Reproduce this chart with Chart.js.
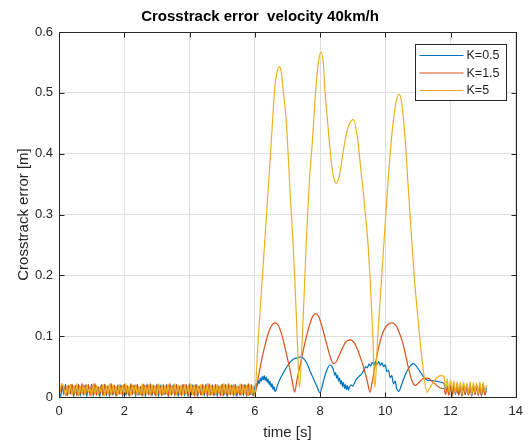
<!DOCTYPE html>
<html>
<head>
<meta charset="utf-8">
<script src="https://cdn.jsdelivr.net/npm/chart.js@4.4.0/dist/chart.umd.min.js"></script>
<style>
  html, body { margin: 0; padding: 0; background: #fff; }
</style>
</head>
<body>
<canvas id="errChart" width="530" height="445"></canvas>
<script>
// chart text
const chartTitle = "Crosstrack error  velocity 40km/h";
const xLabel = "time [s]";
const yLabel = "Crosstrack error [m]";
const seriesLabels = ["K=0.5", "K=1.5", "K=5"];
const seriesColors = ["#0072BD", "#D95319", "#EDB120"];

// noisy start (0..6 s), shared sample times
const noiseTime = [
  0, 0.05, 0.1, 0.15, 0.2, 0.25, 0.3, 0.35, 0.4, 0.45,
  0.5, 0.55, 0.6, 0.65, 0.7, 0.75, 0.8, 0.85, 0.9, 0.95,
  1, 1.05, 1.1, 1.15, 1.2, 1.25, 1.3, 1.35, 1.4, 1.45,
  1.5, 1.55, 1.6, 1.65, 1.7, 1.75, 1.8, 1.85, 1.9, 1.95,
  2, 2.05, 2.1, 2.15, 2.2, 2.25, 2.3, 2.35, 2.4, 2.45,
  2.5, 2.55, 2.6, 2.65, 2.7, 2.75, 2.8, 2.85, 2.9, 2.95,
  3, 3.05, 3.1, 3.15, 3.2, 3.25, 3.3, 3.35, 3.4, 3.45,
  3.5, 3.55, 3.6, 3.65, 3.7, 3.75, 3.8, 3.85, 3.9, 3.95,
  4, 4.05, 4.1, 4.15, 4.2, 4.25, 4.3, 4.35, 4.4, 4.45,
  4.5, 4.55, 4.6, 4.65, 4.7, 4.75, 4.8, 4.85, 4.9, 4.95,
  5, 5.05, 5.1, 5.15, 5.2, 5.25, 5.3, 5.35, 5.4, 5.45,
  5.5, 5.55, 5.6, 5.65, 5.7, 5.75, 5.8, 5.85, 5.9, 5.95,
  6
];
const k05NoiseErr = [
  0.010, 0.001, 0.018, 0.004, 0.021, 0.002, 0.016, 0.005, 0.020, 0.001,
  0.019, 0.003, 0.021, 0.002, 0.017, 0.004, 0.020, 0.001, 0.018, 0.005,
  0.021, 0.002, 0.019, 0.003, 0.016, 0.001, 0.020, 0.004, 0.021, 0.002,
  0.018, 0.001, 0.021, 0.003, 0.019, 0.002, 0.017, 0.005, 0.020, 0.001,
  0.021, 0.003, 0.018, 0.002, 0.020, 0.004, 0.019, 0.001, 0.021, 0.003,
  0.017, 0.002, 0.020, 0.001, 0.021, 0.004, 0.018, 0.002, 0.019, 0.003,
  0.021, 0.001, 0.020, 0.002, 0.018, 0.004, 0.021, 0.001, 0.019, 0.003,
  0.020, 0.002, 0.021, 0.001, 0.018, 0.003, 0.020, 0.002, 0.021, 0.001,
  0.019, 0.003, 0.020, 0.002, 0.021, 0.001, 0.018, 0.004, 0.020, 0.002,
  0.021, 0.001, 0.019, 0.003, 0.020, 0.002, 0.021, 0.001, 0.018, 0.003,
  0.020, 0.002, 0.021, 0.001, 0.019, 0.004, 0.020, 0.002, 0.021, 0.001,
  0.018, 0.003, 0.020, 0.002, 0.021, 0.001, 0.019, 0.003, 0.020, 0.002,
  0.015
];
const k15NoiseErr = [
  0.004, 0.012, 0.020, 0.006, 0.018, 0.003, 0.019, 0.007, 0.021, 0.004,
  0.017, 0.002, 0.020, 0.005, 0.022, 0.003, 0.018, 0.006, 0.021, 0.002,
  0.019, 0.004, 0.022, 0.003, 0.017, 0.006, 0.020, 0.002, 0.021, 0.005,
  0.018, 0.003, 0.022, 0.004, 0.019, 0.002, 0.020, 0.006, 0.017, 0.003,
  0.021, 0.005, 0.018, 0.002, 0.022, 0.004, 0.019, 0.003, 0.020, 0.006,
  0.017, 0.002, 0.021, 0.005, 0.019, 0.003, 0.022, 0.004, 0.018, 0.002,
  0.020, 0.006, 0.017, 0.003, 0.021, 0.005, 0.019, 0.002, 0.022, 0.004,
  0.018, 0.003, 0.020, 0.006, 0.017, 0.002, 0.021, 0.005, 0.019, 0.003,
  0.022, 0.004, 0.018, 0.002, 0.020, 0.006, 0.017, 0.003, 0.021, 0.005,
  0.019, 0.002, 0.022, 0.004, 0.018, 0.003, 0.020, 0.006, 0.017, 0.002,
  0.021, 0.005, 0.019, 0.003, 0.022, 0.004, 0.018, 0.002, 0.020, 0.006,
  0.017, 0.003, 0.021, 0.005, 0.019, 0.002, 0.022, 0.004, 0.018, 0.003,
  0.004
];
const k5NoiseErr = [
  0.000, 0.016, 0.022, 0.014, 0.002, 0.019, 0.004, 0.021, 0.003, 0.018,
  0.006, 0.022, 0.002, 0.017, 0.005, 0.020, 0.003, 0.021, 0.008, 0.015,
  0.002, 0.022, 0.004, 0.019, 0.003, 0.016, 0.007, 0.021, 0.002, 0.018,
  0.005, 0.022, 0.003, 0.020, 0.006, 0.017, 0.002, 0.021, 0.004, 0.019,
  0.003, 0.022, 0.005, 0.018, 0.002, 0.020, 0.006, 0.021, 0.003, 0.017,
  0.004, 0.022, 0.002, 0.019, 0.005, 0.020, 0.003, 0.021, 0.006, 0.018,
  0.002, 0.022, 0.004, 0.020, 0.003, 0.019, 0.005, 0.021, 0.002, 0.018,
  0.006, 0.022, 0.003, 0.020, 0.004, 0.019, 0.002, 0.021, 0.005, 0.018,
  0.003, 0.022, 0.004, 0.020, 0.002, 0.019, 0.006, 0.021, 0.003, 0.018,
  0.005, 0.022, 0.002, 0.020, 0.004, 0.019, 0.003, 0.021, 0.006, 0.018,
  0.002, 0.022, 0.005, 0.020, 0.003, 0.019, 0.004, 0.021, 0.002, 0.018,
  0.006, 0.022, 0.003, 0.020, 0.005, 0.019, 0.002, 0.021, 0.004, 0.018,
  0.003
];

// main response (6..11.75 s)
const k05Time = [
  6.05, 6.08, 6.11, 6.14, 6.17, 6.2, 6.23, 6.26, 6.29, 6.32,
  6.35, 6.38, 6.41, 6.44, 6.47, 6.5, 6.53, 6.56, 6.59, 6.62,
  6.66, 6.7, 6.8, 6.9, 7.0, 7.1, 7.2, 7.3, 7.42, 7.5,
  7.6, 7.7, 7.8, 7.9, 8.0, 8.1, 8.2, 8.31, 8.37, 8.42,
  8.45, 8.48, 8.51, 8.54, 8.57, 8.6, 8.63, 8.66, 8.69, 8.72,
  8.75, 8.78, 8.81, 8.84, 8.87, 8.9, 8.95, 9.0, 9.1, 9.2,
  9.29, 9.35, 9.4, 9.45, 9.5, 9.55, 9.6, 9.65, 9.7, 9.75,
  9.8, 9.85, 9.9, 9.95, 10.0, 10.05, 10.1, 10.15, 10.2, 10.25,
  10.3, 10.35, 10.41, 10.5, 10.6, 10.7, 10.8, 10.86, 10.96, 11.05,
  11.15, 11.27, 11.4, 11.55, 11.72
];
const k05Err = [
  0.022, 0.018, 0.027, 0.022, 0.031, 0.026, 0.034, 0.028, 0.035, 0.027,
  0.033, 0.024, 0.030, 0.020, 0.026, 0.016, 0.022, 0.012, 0.017, 0.009,
  0.012, 0.020, 0.032, 0.042, 0.051, 0.058, 0.063, 0.064, 0.066, 0.063,
  0.055, 0.042, 0.030, 0.018, 0.007, 0.025, 0.043, 0.053, 0.050, 0.043,
  0.036, 0.040, 0.031, 0.036, 0.026, 0.031, 0.021, 0.027, 0.017, 0.024,
  0.014, 0.021, 0.012, 0.019, 0.011, 0.016, 0.020, 0.018, 0.028, 0.034,
  0.039, 0.045, 0.050, 0.048, 0.054, 0.051, 0.057, 0.053, 0.058, 0.054,
  0.058, 0.052, 0.056, 0.050, 0.053, 0.042, 0.044, 0.032, 0.035, 0.022,
  0.026, 0.014, 0.009, 0.020, 0.035, 0.046, 0.053, 0.055, 0.050, 0.043,
  0.035, 0.028, 0.027, 0.026, 0.024
];
const k15Time = [
  6.1, 6.2, 6.3, 6.41, 6.5, 6.62, 6.72, 6.8, 6.87, 6.95,
  7.05, 7.15, 7.22, 7.3, 7.4, 7.5, 7.6, 7.7, 7.78, 7.87,
  7.96, 8.05, 8.15, 8.25, 8.33, 8.42, 8.5, 8.6, 8.7, 8.8,
  8.93, 9.05, 9.15, 9.25, 9.35, 9.45, 9.53, 9.6, 9.7, 9.8,
  9.9, 10.0, 10.1, 10.22, 10.32, 10.42, 10.51, 10.6, 10.7, 10.81,
  10.92, 11.0, 11.15, 11.3, 11.45, 11.6, 11.75
];
const k15Err = [
  0.030, 0.058, 0.082, 0.104, 0.116, 0.122, 0.118, 0.107, 0.094, 0.076,
  0.052, 0.026, 0.008, 0.030, 0.055, 0.080, 0.103, 0.122, 0.133, 0.137,
  0.132, 0.118, 0.098, 0.078, 0.063, 0.055, 0.058, 0.070, 0.082, 0.091,
  0.094, 0.089, 0.078, 0.063, 0.046, 0.026, 0.008, 0.025, 0.055, 0.082,
  0.102, 0.114, 0.120, 0.122, 0.118, 0.107, 0.094, 0.075, 0.050, 0.028,
  0.019, 0.022, 0.030, 0.031, 0.025, 0.018, 0.014
];
const k5Time = [
  6.08, 6.15, 6.23, 6.31, 6.41, 6.51, 6.61, 6.68, 6.75, 6.81,
  6.87, 6.94, 7.0, 7.08, 7.17, 7.23, 7.3, 7.37, 7.45, 7.53,
  7.6, 7.68, 7.77, 7.87, 7.95, 8.03, 8.1, 8.15, 8.22, 8.28,
  8.36, 8.43, 8.5, 8.6, 8.7, 8.8, 8.9, 9.02, 9.15, 9.25,
  9.32, 9.4, 9.46, 9.54, 9.62, 9.68, 9.77, 9.88, 9.98, 10.08,
  10.2, 10.3, 10.41, 10.5, 10.61, 10.71, 10.81, 10.9, 11.0, 11.1,
  11.2, 11.27, 11.4, 11.55, 11.7
];
const k5Err = [
  0.070, 0.130, 0.195, 0.258, 0.340, 0.423, 0.505, 0.533, 0.543, 0.535,
  0.505, 0.470, 0.423, 0.340, 0.258, 0.190, 0.100, 0.015, 0.090, 0.190,
  0.280, 0.360, 0.423, 0.505, 0.550, 0.567, 0.550, 0.505, 0.460, 0.423,
  0.380, 0.358, 0.351, 0.365, 0.400, 0.430, 0.449, 0.456, 0.425, 0.375,
  0.340, 0.295, 0.260, 0.190, 0.100, 0.015, 0.100, 0.190, 0.270, 0.350,
  0.430, 0.475, 0.498, 0.485, 0.423, 0.340, 0.258, 0.190, 0.130, 0.075,
  0.030, 0.008, 0.018, 0.030, 0.035
];

// noisy end (11.8..13.1 s)
const tailTime = [
  11.8, 11.85, 11.9, 11.95, 12, 12.05, 12.1, 12.15, 12.2, 12.25,
  12.3, 12.35, 12.4, 12.45, 12.5, 12.55, 12.6, 12.65, 12.7, 12.75,
  12.8, 12.85, 12.9, 12.95, 13, 13.05, 13.1
];
const k05TailErr = [
  0.022, 0.012, 0.018, 0.004, 0.020, 0.002, 0.019, 0.005, 0.021, 0.003,
  0.018, 0.002, 0.020, 0.004, 0.019, 0.003, 0.021, 0.002, 0.018, 0.005,
  0.020, 0.003, 0.019, 0.002, 0.021, 0.004, 0.015
];
const k15TailErr = [
  0.014, 0.004, 0.018, 0.003, 0.017, 0.002, 0.019, 0.004, 0.016, 0.003,
  0.018, 0.002, 0.017, 0.004, 0.019, 0.003, 0.016, 0.002, 0.018, 0.004,
  0.017, 0.003, 0.019, 0.002, 0.016, 0.004, 0.010
];
const k5TailErr = [
  0.034, 0.012, 0.030, 0.008, 0.028, 0.010, 0.026, 0.006, 0.025, 0.009,
  0.024, 0.005, 0.025, 0.008, 0.023, 0.006, 0.025, 0.004, 0.024, 0.007,
  0.023, 0.005, 0.025, 0.006, 0.024, 0.008, 0.020
];

const FONT = "'Liberation Sans', Arial, Helvetica, sans-serif";
const TEXT = "#262626";

function buildSeries(noiseErr, time, err, tailErr) {
  const pts = [];
  noiseTime.forEach((t, i) => pts.push({ x: t, y: noiseErr[i] }));
  time.forEach((t, i) => pts.push({ x: t, y: err[i] }));
  tailTime.forEach((t, i) => pts.push({ x: t, y: tailErr[i] }));
  return pts;
}

const seriesData = [
  buildSeries(k05NoiseErr, k05Time, k05Err, k05TailErr),
  buildSeries(k15NoiseErr, k15Time, k15Err, k15TailErr),
  buildSeries(k5NoiseErr, k5Time, k5Err, k5TailErr),
];

// box round the axes, inward ticks and the matlab-like legend
const axesBox = {
  id: "axesBox",
  afterDatasetsDraw(chart) {
    const { ctx, chartArea: a, scales: { x, y } } = chart;
    const L = Math.round(a.left) + 0.5, R = Math.round(a.right) + 0.5;
    const T = Math.round(a.top) + 0.5, B = Math.round(a.bottom) + 0.5;
    ctx.save();
    ctx.strokeStyle = TEXT;
    ctx.lineWidth = 1;
    ctx.strokeRect(L, T, R - L, B - T);
    ctx.beginPath();
    x.ticks.forEach(t => {
      const px = Math.round(x.getPixelForValue(t.value)) + 0.5;
      ctx.moveTo(px, B); ctx.lineTo(px, B - 5);
      ctx.moveTo(px, T); ctx.lineTo(px, T + 5);
    });
    y.ticks.forEach(t => {
      const py = Math.round(y.getPixelForValue(t.value)) + 0.5;
      ctx.moveTo(L, py); ctx.lineTo(L + 5, py);
      ctx.moveTo(R, py); ctx.lineTo(R - 5, py);
    });
    ctx.stroke();

    // legend
    const lw = 91, lh = 56;
    const lx = Math.round(a.right) - 10 - lw + 0.5;
    const ly = Math.round(a.top) + 12 + 0.5;
    ctx.fillStyle = "#fff";
    ctx.fillRect(lx, ly, lw, lh);
    ctx.strokeStyle = TEXT;
    ctx.strokeRect(lx, ly, lw, lh);
    ctx.font = "12.5px " + FONT;
    ctx.textBaseline = "middle";
    ctx.textAlign = "left";
    chart.data.datasets.forEach((ds, i) => {
      const ry = ly + 11 + i * 17.5;
      ctx.strokeStyle = ds.borderColor;
      ctx.lineWidth = 1.2;
      ctx.beginPath();
      ctx.moveTo(lx + 4, ry);
      ctx.lineTo(lx + 48, ry);
      ctx.stroke();
      ctx.fillStyle = TEXT;
      ctx.fillText(ds.label, lx + 51, ry + 0.5);
    });
    ctx.restore();
  }
};

const ctx = document.getElementById("errChart").getContext("2d");
new Chart(ctx, {
  type: "line",
  data: {
    datasets: seriesData.map((d, i) => ({
      label: seriesLabels[i],
      data: d,
      borderColor: seriesColors[i],
      borderWidth: 1.2,
      pointRadius: 0,
      fill: false,
      cubicInterpolationMode: "monotone",
      order: 3 - i,
    })),
  },
  options: {
    responsive: false,
    animation: false,
    events: [],
    layout: { padding: { left: 0, right: 10, top: 0, bottom: 0 } },
    plugins: {
      legend: { display: false },
      tooltip: { enabled: false },
      title: {
        display: true,
        text: chartTitle,
        color: "#000",
        font: { family: FONT, size: 15, weight: "bold" },
        padding: { top: 8, bottom: 6 },
      },
    },
    scales: {
      x: {
        type: "linear",
        min: 0,
        max: 14,
        ticks: { stepSize: 2, color: TEXT, padding: 7, font: { family: FONT, size: 13 } },
        grid: { color: "#dfdfdf", drawTicks: false },
        border: { display: false },
        title: { display: true, text: xLabel, color: TEXT, font: { family: FONT, size: 15 }, padding: { top: 0, bottom: 3 } },
        afterFit: s => { s.height = 48; },
      },
      y: {
        type: "linear",
        min: 0,
        max: 0.6,
        ticks: { stepSize: 0.1, color: TEXT, padding: 6, font: { family: FONT, size: 13 } },
        grid: { color: "#dfdfdf", drawTicks: false },
        border: { display: false },
        title: { display: true, text: yLabel, color: TEXT, font: { family: FONT, size: 15 }, padding: { top: 15, bottom: 0 } },
        afterFit: s => { s.width = 59; },
      },
    },
  },
  plugins: [axesBox],
});
</script>
</body>
</html>
